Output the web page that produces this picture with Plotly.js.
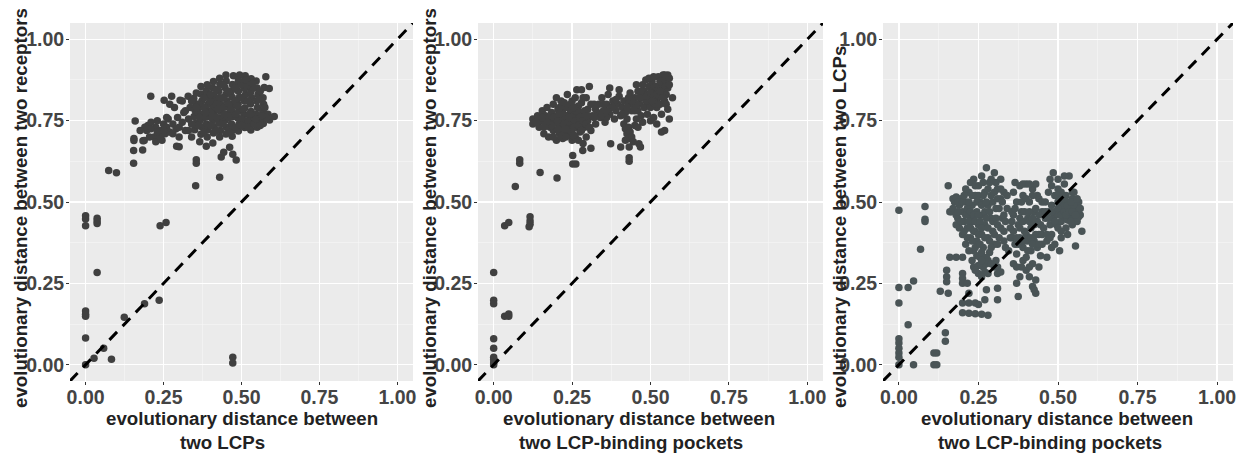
<!DOCTYPE html>
<html>
<head>
<meta charset="utf-8">
<script src="https://cdn.plot.ly/plotly-3.0.1.min.js"></script>
<style>html,body{margin:0;padding:0;background:#fff;}#chart{width:1244px;height:456px;}</style>
</head>
<body>
<div id="chart"></div>
<script>
// Panel 1: x = distance between two LCPs, y = distance between two receptors
const panel1Points = [
[0,0.458],[0,0.448],[0,0.427],[0.037,0.442],[0.037,0.434],[0.037,0.45],[0.037,0.283],[0,0.165],[0,0.155],[0,0.149],
[0,0.082],[0,0],[0.027,0.02],[0.058,0.051],[0.083,0.017],[0.124,0.146],[0.189,0.187],[0.236,0.198],[0.239,0.427],[0.258,0.437],
[0.472,0.023],[0.472,0.005],[0.074,0.597],[0.099,0.59],[0.353,0.55],[0.43,0.576],[0.154,0.619],[0.154,0.658],[0.183,0.66],[0.155,0.689],
[0.155,0.695],[0.184,0.688],[0.159,0.749],[0.355,0.63],[0.355,0.619],[0.435,0.638],[0.443,0.653],[0.462,0.668],[0.472,0.647],[0.483,0.629],
[0.209,0.825],[0.252,0.813],[0.578,0.885],[0.573,0.852],[0.589,0.849],[0.605,0.763],[0.292,0.671],[0.387,0.671],[0.408,0.681],[0.366,0.685],
[0.276,0.825],[0.303,0.813],[0.329,0.825],[0.188,0.689],
[0.196,0.72],[0.2,0.735],[0.21,0.745],[0.22,0.70],[0.225,0.73],[0.23,0.75],[0.24,0.72],[0.245,0.69],[0.25,0.74],[0.26,0.73],
[0.265,0.755],[0.27,0.715],[0.28,0.74],[0.29,0.725],[0.295,0.76],[0.30,0.70],[0.31,0.745],[0.315,0.775],[0.32,0.72],[0.33,0.755],
[0.335,0.79],[0.34,0.70],[0.285,0.79],[0.27,0.80],[0.31,0.81],[0.30,0.67],[0.225,0.685],[0.24,0.70],[0.255,0.71],
[0.35,0.722],[0.352,0.741],[0.348,0.763],[0.351,0.782],[0.354,0.80],[0.347,0.818],
[0.37,0.708],[0.372,0.731],[0.368,0.752],[0.371,0.769],[0.369,0.792],[0.373,0.81],[0.37,0.832],
[0.39,0.70],[0.392,0.722],[0.388,0.74],[0.391,0.762],[0.389,0.781],[0.393,0.80],[0.39,0.823],[0.387,0.842],
[0.41,0.712],[0.412,0.731],[0.408,0.751],[0.411,0.771],[0.409,0.79],[0.413,0.811],[0.41,0.829],[0.407,0.851],
[0.43,0.70],[0.432,0.72],[0.428,0.742],[0.431,0.759],[0.429,0.781],[0.433,0.80],[0.43,0.82],[0.427,0.84],[0.431,0.862],
[0.45,0.709],[0.452,0.73],[0.448,0.751],[0.451,0.77],[0.449,0.792],[0.453,0.81],[0.45,0.831],[0.447,0.852],[0.451,0.872],
[0.47,0.702],[0.472,0.721],[0.468,0.74],[0.471,0.762],[0.469,0.779],[0.473,0.80],[0.47,0.822],[0.467,0.84],[0.471,0.861],[0.474,0.888],
[0.49,0.718],[0.492,0.739],[0.488,0.758],[0.491,0.779],[0.489,0.80],[0.493,0.821],[0.49,0.84],[0.487,0.862],[0.494,0.89],
[0.51,0.729],[0.512,0.748],[0.508,0.769],[0.511,0.789],[0.509,0.81],[0.513,0.83],[0.51,0.849],[0.507,0.87],[0.512,0.888],
[0.53,0.721],[0.532,0.741],[0.528,0.76],[0.531,0.778],[0.529,0.801],[0.533,0.82],[0.53,0.839],[0.527,0.858],[0.531,0.879],
[0.55,0.73],[0.552,0.749],[0.548,0.77],[0.551,0.79],[0.549,0.81],[0.553,0.83],[0.55,0.85],[0.547,0.872],
[0.57,0.741],[0.572,0.76],[0.568,0.78],[0.571,0.80],[0.569,0.82],[0.59,0.752],[0.585,0.77],
[0.46,0.76],[0.48,0.77],[0.50,0.755],[0.52,0.75],[0.54,0.76],[0.56,0.755],[0.44,0.79],[0.46,0.80],[0.48,0.81],[0.50,0.82],
[0.52,0.81],[0.40,0.775],[0.42,0.76],[0.38,0.79],[0.36,0.775],
[0.36,0.735],[0.38,0.715],[0.40,0.735],[0.42,0.72],[0.44,0.74],[0.46,0.715],[0.48,0.73],[0.50,0.735],[0.52,0.73],[0.54,0.74],
[0.56,0.735],[0.58,0.76],[0.38,0.76],[0.40,0.81],[0.42,0.80],[0.44,0.82],[0.46,0.84],[0.48,0.85],[0.50,0.86],[0.52,0.86],
[0.54,0.85],[0.56,0.84],[0.44,0.86],[0.42,0.845],[0.40,0.83],[0.38,0.82],[0.36,0.80],[0.34,0.74],[0.33,0.72],[0.32,0.78],
[0.30,0.73],[0.28,0.71],[0.26,0.76],[0.25,0.72],[0.23,0.715],[0.21,0.725],[0.205,0.70],[0.19,0.73],[0.175,0.72],[0.34,0.81],
[0.355,0.835],[0.37,0.855],[0.39,0.86],[0.41,0.87],[0.43,0.88],[0.45,0.89],[0.49,0.875],[0.515,0.875],[0.535,0.865],[0.555,0.815],
[0.575,0.79],[0.565,0.765],[0.545,0.755],[0.525,0.77],[0.505,0.785],[0.485,0.795],[0.465,0.785],[0.445,0.77],[0.425,0.785],[0.405,0.765],
[0.385,0.775],[0.365,0.76],[0.355,0.79]
];

// Panel 2: x = distance between two LCP-binding pockets, y = distance between two receptors
const panel2Points = [
[0,0.283],[0,0.198],[0,0.187],[0,0.080],[0,0.051],[0,0.023],[0,0.015],[0,0.005],[0,0],
[0.035,0.149],[0.048,0.156],[0.048,0.149],[0.035,0.427],[0.048,0.437],[0.069,0.548],[0.083,0.63],[0.083,0.619],
[0.116,0.442],[0.116,0.432],[0.116,0.455],[0.113,0.424],[0.148,0.591],[0.202,0.574],[0.252,0.643],[0.252,0.617],[0.262,0.617],
[0.284,0.658],[0.373,0.679],[0.405,0.669],[0.432,0.669],[0.432,0.636],[0.432,0.625],[0.463,0.679],[0.468,0.669],
[0.125,0.755],[0.125,0.74],[0.135,0.745],[0.14,0.765],[0.145,0.73],[0.15,0.75],[0.155,0.78],[0.16,0.71],[0.165,0.74],[0.165,0.765],
[0.17,0.79],[0.175,0.70],[0.18,0.73],[0.18,0.755],[0.185,0.775],[0.19,0.72],[0.19,0.80],[0.195,0.745],[0.2,0.69],[0.2,0.765],
[0.205,0.785],[0.21,0.71],[0.21,0.735],[0.215,0.755],[0.215,0.81],[0.22,0.775],[0.22,0.695],[0.225,0.72],[0.23,0.745],[0.23,0.79],
[0.235,0.765],[0.235,0.83],[0.24,0.705],[0.24,0.73],[0.245,0.755],[0.245,0.78],[0.25,0.69],[0.25,0.72],[0.25,0.81],[0.255,0.745],
[0.26,0.77],[0.26,0.70],[0.265,0.73],[0.265,0.845],[0.27,0.755],[0.27,0.795],[0.275,0.715],[0.28,0.74],[0.28,0.775],[0.285,0.82],
[0.29,0.73],[0.29,0.76],[0.295,0.70],[0.30,0.785],[0.30,0.75],[0.305,0.855],[0.31,0.72],[0.315,0.765],[0.32,0.80],[0.325,0.74],
[0.33,0.775],[0.285,0.68],[0.31,0.665],[0.27,0.69],[0.26,0.82],[0.28,0.845],[0.20,0.82],[0.175,0.76],
[0.19,0.76],[0.2,0.745],[0.205,0.725],[0.21,0.77],[0.215,0.70],[0.22,0.75],[0.225,0.74],[0.23,0.765],[0.235,0.72],[0.24,0.745],
[0.245,0.715],[0.25,0.76],[0.255,0.73],[0.255,0.705],[0.26,0.75],[0.265,0.78],[0.27,0.735],[0.275,0.76],[0.28,0.72],[0.285,0.75],
[0.29,0.78],[0.295,0.74],[0.30,0.765],[0.305,0.73],[0.31,0.80],[0.32,0.76],[0.325,0.785],[0.21,0.79],[0.225,0.805],[0.245,0.80],
[0.255,0.79],[0.28,0.805],[0.295,0.82],[0.24,0.76],[0.23,0.725],[0.185,0.735],[0.17,0.745],[0.155,0.76],[0.16,0.73],[0.19,0.70],
[0.23,0.70],
[0.335,0.80],[0.34,0.76],[0.345,0.82],[0.35,0.78],[0.355,0.745],[0.36,0.80],[0.365,0.83],[0.37,0.77],[0.375,0.79],[0.38,0.81],
[0.385,0.755],[0.39,0.78],[0.395,0.80],[0.40,0.825],[0.405,0.765],[0.41,0.79],[0.415,0.81],[0.42,0.775],[0.425,0.755],[0.43,0.80],
[0.435,0.835],[0.44,0.78],[0.36,0.76],[0.345,0.77],[0.40,0.845],[0.37,0.85],
[0.415,0.74],[0.42,0.725],[0.425,0.71],[0.43,0.695],[0.43,0.73],[0.435,0.715],[0.44,0.70],[0.445,0.685],[0.42,0.69],[0.45,0.735],
[0.445,0.80],[0.45,0.82],[0.455,0.86],[0.46,0.78],[0.46,0.84],[0.465,0.80],[0.47,0.765],[0.47,0.82],[0.475,0.86],[0.48,0.79],
[0.48,0.84],[0.485,0.81],[0.485,0.875],[0.49,0.77],[0.49,0.83],[0.495,0.80],[0.495,0.855],[0.50,0.82],[0.50,0.79],[0.505,0.84],
[0.505,0.87],[0.51,0.805],[0.51,0.76],[0.515,0.83],[0.515,0.855],[0.52,0.815],[0.52,0.79],[0.525,0.845],[0.525,0.885],[0.53,0.825],
[0.53,0.80],[0.535,0.86],[0.535,0.77],[0.54,0.84],[0.54,0.89],[0.545,0.81],[0.55,0.87],[0.55,0.83],[0.555,0.89],[0.555,0.85],
[0.56,0.755],[0.57,0.82],[0.545,0.72],[0.535,0.715],[0.52,0.74],[0.50,0.75],[0.475,0.745],[0.46,0.73],[0.455,0.755],[0.51,0.885],
[0.495,0.88],
[0.49,0.81],[0.50,0.835],[0.51,0.82],[0.52,0.83],[0.53,0.84],[0.54,0.82],[0.545,0.86],[0.53,0.87],[0.515,0.80],[0.505,0.81],
[0.48,0.825],[0.465,0.82],[0.47,0.84],[0.455,0.80],[0.44,0.81],[0.43,0.82],[0.45,0.78],[0.39,0.815],[0.38,0.79],[0.36,0.78],
[0.35,0.80],[0.41,0.77],[0.425,0.79],[0.545,0.875],[0.56,0.88],[0.545,0.89],[0.56,0.86],[0.55,0.80],[0.555,0.785]
];

// Panel 3: x = distance between two LCP-binding pockets, y = distance between two LCPs
const panel3Points = [
[0,0.475],[0.082,0.486],[0.082,0.447],[0.082,0.44],[0.068,0.355],[0,0.237],[0,0.19],[0.029,0.237],[0.046,0.257],[0.029,0.123],
[0,0.08],[0,0.067],[0,0.051],[0,0.036],[0,0.023],[0,0],[0.046,0],[0.11,0.036],[0.119,0.036],[0.11,0],[0.119,0],
[0.146,0.098],[0.146,0.072],
[0.155,0.55],[0.16,0.47],[0.165,0.47],[0.17,0.51],[0.175,0.50],[0.18,0.515],[0.185,0.45],[0.19,0.49],[0.19,0.42],[0.195,0.51],
[0.2,0.47],[0.2,0.40],[0.205,0.44],[0.21,0.50],[0.21,0.37],[0.215,0.42],[0.22,0.46],[0.22,0.53],[0.225,0.39],[0.23,0.49],
[0.23,0.44],[0.235,0.57],[0.235,0.35],[0.24,0.41],[0.24,0.52],[0.245,0.47],[0.245,0.38],[0.25,0.55],[0.25,0.43],[0.255,0.33],
[0.255,0.50],[0.26,0.40],[0.26,0.58],[0.265,0.46],[0.265,0.36],[0.27,0.53],[0.27,0.43],[0.275,0.605],[0.275,0.31],[0.28,0.49],
[0.28,0.39],[0.285,0.56],[0.285,0.345],[0.29,0.45],[0.29,0.52],[0.295,0.41],[0.30,0.59],[0.30,0.37],[0.305,0.48],[0.305,0.32],
[0.31,0.54],[0.31,0.43],[0.315,0.39],[0.32,0.51],[0.32,0.57],[0.325,0.45],[0.33,0.41],[0.33,0.53],[0.335,0.36],[0.34,0.48],
[0.21,0.54],[0.185,0.5],[0.225,0.56],[0.245,0.335],[0.265,0.30],[0.23,0.32],[0.25,0.305],[0.28,0.32],[0.30,0.30],[0.22,0.35],
[0.17,0.48],[0.18,0.46],[0.18,0.43],[0.185,0.47],[0.195,0.44],[0.2,0.50],[0.205,0.52],[0.205,0.41],[0.21,0.46],[0.215,0.48],
[0.215,0.39],[0.22,0.44],[0.22,0.50],[0.225,0.42],[0.225,0.47],[0.23,0.52],[0.23,0.38],[0.235,0.46],[0.235,0.41],[0.24,0.55],
[0.24,0.44],[0.24,0.36],[0.245,0.50],[0.25,0.46],[0.25,0.40],[0.25,0.52],[0.255,0.37],[0.255,0.44],[0.26,0.49],[0.26,0.42],
[0.26,0.345],[0.265,0.52],[0.265,0.56],[0.27,0.47],[0.27,0.39],[0.275,0.45],[0.275,0.50],[0.275,0.33],[0.28,0.54],[0.28,0.42],
[0.285,0.47],[0.285,0.38],[0.29,0.57],[0.29,0.36],[0.295,0.50],[0.295,0.44],[0.30,0.40],[0.30,0.53],[0.305,0.56],[0.305,0.45],
[0.31,0.37],[0.31,0.51],[0.315,0.48],[0.32,0.42],[0.32,0.54],[0.325,0.50],[0.33,0.46],[0.33,0.38],[0.335,0.44],[0.34,0.52],
[0.26,0.32],[0.29,0.31],[0.27,0.285],[0.31,0.30],[0.235,0.30],[0.25,0.28],[0.31,0.28],[0.32,0.285],
[0.15,0.29],[0.15,0.27],[0.15,0.255],[0.16,0.33],[0.18,0.33],[0.2,0.33],[0.20,0.28],[0.20,0.265],[0.20,0.25],[0.13,0.226],
[0.155,0.22],[0.2,0.19],[0.22,0.19],[0.24,0.19],[0.25,0.185],[0.2,0.16],[0.22,0.158],[0.24,0.157],[0.26,0.155],[0.28,0.152],
[0.27,0.2],[0.31,0.2],[0.275,0.23],[0.31,0.235],[0.26,0.27],[0.28,0.28],[0.24,0.29],[0.22,0.22],[0.215,0.25],
[0.345,0.35],[0.35,0.42],[0.355,0.39],[0.36,0.46],[0.36,0.53],[0.365,0.37],[0.37,0.50],[0.37,0.25],[0.375,0.43],[0.375,0.21],
[0.38,0.55],[0.38,0.39],[0.385,0.47],[0.385,0.30],[0.39,0.36],[0.39,0.52],[0.395,0.41],[0.40,0.29],[0.40,0.555],[0.405,0.45],
[0.405,0.38],[0.41,0.50],[0.41,0.27],[0.415,0.42],[0.415,0.35],[0.42,0.54],[0.42,0.24],[0.425,0.47],[0.425,0.38],[0.43,0.555],
[0.43,0.22],[0.435,0.44],[0.435,0.36],[0.44,0.51],[0.44,0.40],[0.445,0.335],[0.45,0.47],[0.45,0.37],[0.39,0.32],[0.37,0.34],
[0.355,0.47],[0.40,0.33],[0.365,0.56],[0.42,0.31],[0.44,0.30],
[0.35,0.39],[0.355,0.44],[0.36,0.41],[0.365,0.48],[0.37,0.39],[0.375,0.37],[0.38,0.45],[0.38,0.42],[0.385,0.38],[0.385,0.50],
[0.39,0.44],[0.395,0.38],[0.395,0.47],[0.40,0.40],[0.40,0.51],[0.405,0.35],[0.41,0.44],[0.41,0.47],[0.415,0.39],[0.42,0.45],
[0.42,0.37],[0.425,0.43],[0.43,0.40],[0.43,0.48],[0.435,0.52],[0.44,0.37],[0.44,0.46],[0.445,0.43],[0.45,0.40],[0.45,0.50],
[0.36,0.31],[0.37,0.30],[0.38,0.27],[0.41,0.30],[0.43,0.26],[0.425,0.23],[0.39,0.555],[0.41,0.555],[0.42,0.52],
[0.455,0.42],[0.46,0.50],[0.46,0.45],[0.465,0.38],[0.47,0.53],[0.47,0.47],[0.475,0.43],[0.48,0.49],[0.48,0.40],[0.485,0.59],
[0.485,0.45],[0.49,0.52],[0.49,0.47],[0.495,0.43],[0.5,0.50],[0.5,0.46],[0.505,0.48],[0.505,0.35],[0.51,0.53],[0.51,0.44],
[0.515,0.47],[0.515,0.50],[0.52,0.455],[0.52,0.49],[0.525,0.42],[0.525,0.52],[0.53,0.47],[0.53,0.445],[0.535,0.50],[0.535,0.58],
[0.54,0.46],[0.54,0.48],[0.545,0.43],[0.545,0.51],[0.55,0.47],[0.55,0.45],[0.555,0.49],[0.56,0.44],[0.56,0.47],[0.565,0.50],
[0.57,0.46],[0.575,0.41],[0.555,0.365],[0.475,0.57],[0.5,0.54],[0.52,0.555],[0.465,0.33],[0.48,0.36],[0.53,0.40],[0.51,0.39],
[0.49,0.37],[0.545,0.53],[0.565,0.455],
[0.46,0.47],[0.47,0.45],[0.48,0.47],[0.49,0.44],[0.50,0.48],[0.51,0.46],[0.52,0.47],[0.53,0.49],[0.54,0.44],[0.55,0.49],
[0.56,0.45],[0.57,0.48],[0.465,0.40],[0.475,0.39],[0.5,0.42],[0.51,0.41],[0.525,0.46],[0.535,0.47],[0.545,0.47],[0.555,0.46],
[0.5,0.52],[0.52,0.51],[0.54,0.50],[0.56,0.51],[0.48,0.55],[0.50,0.57],[0.52,0.58],[0.55,0.53]
];

const tickValues = [0, 0.25, 0.5, 0.75, 1];
const tickLabels = ["0.00", "0.25", "0.50", "0.75", "1.00"];
const diagonal = [-0.05, 1.05];
const xTitleLine1 = ["evolutionary distance between", "evolutionary distance between", "evolutionary distance between"];
const xTitleLine2 = ["two LCPs", "two LCP-binding pockets", "two LCP-binding pockets"];
const yTitles = ["evolutionary distance between two receptors", "evolutionary distance between two receptors", "evolutionary distance between two LCPs"];
const pointColors = ["#404040", "#404040", "#4a5456"];

// layout geometry (pixels)
const W = 1244, PLOT_TOP = 23, PLOT_BOTTOM = 381, PLOT_H = PLOT_BOTTOM - PLOT_TOP;
const domainsPx = [[70, 413], [478, 823], [883, 1233]];
const yTitlePos = [[21, 208], [430, 208], [840, 227]];
const xLine1Pos = [[242, 418], [639, 418], [1057, 418]];
const xLine2Pos = [[222, 442], [631, 442], [1050, 442]];
const FONT = "Liberation Sans, Arial, sans-serif";
const TITLE_FONT = {family: FONT, size: 18.7, color: "#222222", weight: "bold"};
const px2x = px => px / W;
const py2y = py => (PLOT_BOTTOM - py) / PLOT_H;

const sets = [panel1Points, panel2Points, panel3Points];
const traces = [];
sets.forEach((pts, i) => {
  const sfx = i === 0 ? "" : String(i + 1);
  traces.push({
    type: "scatter", mode: "markers",
    x: pts.map(p => p[0]), y: pts.map(p => p[1]),
    xaxis: "x" + sfx, yaxis: "y" + sfx,
    marker: {color: pointColors[i], size: 7.5, line: {width: 0}},
    hoverinfo: "x+y", showlegend: false
  });
});
sets.forEach((pts, i) => {
  const sfx = i === 0 ? "" : String(i + 1);
  traces.push({
    type: "scatter", mode: "lines",
    x: diagonal, y: diagonal,
    xaxis: "x" + sfx, yaxis: "y" + sfx,
    line: {color: "#000", width: 3, dash: "11px,8px"},
    hoverinfo: "skip", showlegend: false
  });
});

function axisBase() {
  return {
    range: [-0.05, 1.05], tickvals: tickValues, ticktext: tickLabels,
    showgrid: true, gridcolor: "#ffffff", gridwidth: 1.2,
    minor: {tick0: 0, dtick: 0.125, showgrid: true, gridcolor: "#f6f6f6", gridwidth: 0.6},
    zeroline: false, showline: false,
    ticks: "outside", ticklen: 3, tickwidth: 1, tickcolor: "#333333",
    tickfont: {family: FONT, size: 19.5, color: "#444444", weight: "bold"},
    automargin: false, fixedrange: true
  };
}

const layout = {
  width: 1244, height: 456,
  margin: {l: 0, r: 0, t: PLOT_TOP, b: 456 - PLOT_BOTTOM},
  paper_bgcolor: "#ffffff", plot_bgcolor: "#EBEBEB",
  font: {family: FONT},
  showlegend: false,
  annotations: []
};
for (let i = 0; i < 3; i++) {
  const sfx = i === 0 ? "" : String(i + 1);
  const xa = axisBase();
  xa.domain = [px2x(domainsPx[i][0]), px2x(domainsPx[i][1])];
  xa.anchor = "y" + sfx;
  xa.ticklabelstandoff = -4;
  const ya = axisBase();
  ya.domain = [0, 1];
  ya.anchor = "x" + sfx;
  ya.ticklabelstandoff = -2;
  layout["xaxis" + sfx] = xa;
  layout["yaxis" + sfx] = ya;
  layout.annotations.push({
    xref: "paper", yref: "paper", x: px2x(yTitlePos[i][0]), y: py2y(yTitlePos[i][1]),
    text: yTitles[i], textangle: -90, showarrow: false, xanchor: "center", yanchor: "middle", font: TITLE_FONT
  });
  layout.annotations.push({
    xref: "paper", yref: "paper", x: px2x(xLine1Pos[i][0]), y: py2y(xLine1Pos[i][1]),
    text: xTitleLine1[i], showarrow: false, xanchor: "center", yanchor: "middle", font: TITLE_FONT
  });
  layout.annotations.push({
    xref: "paper", yref: "paper", x: px2x(xLine2Pos[i][0]), y: py2y(xLine2Pos[i][1]),
    text: xTitleLine2[i], showarrow: false, xanchor: "center", yanchor: "middle", font: TITLE_FONT
  });
}
Plotly.newPlot("chart", traces, layout, {staticPlot: true, displayModeBar: false});
</script>
</body>
</html>
